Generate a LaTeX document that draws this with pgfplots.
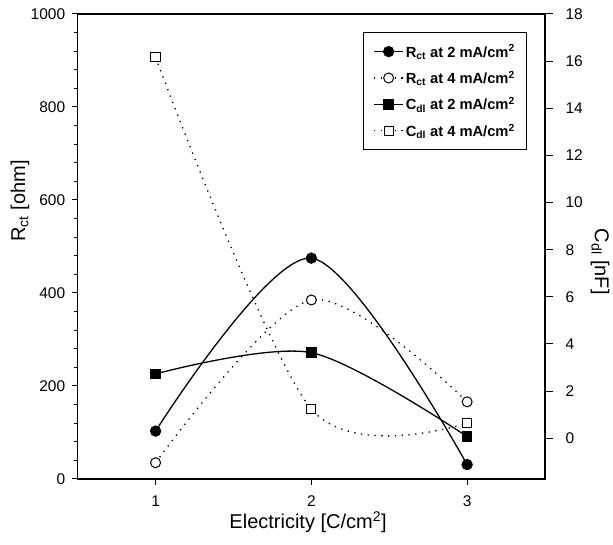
\documentclass[border=0pt]{standalone}
\usepackage{fontspec}
\setmainfont{Liberation Sans}
\usepackage{pgfplots}
\pgfplotsset{compat=1.18}

\pgfplotsset{
  solidline/.style={black, line width=1.3pt, smooth, solid},
  dotline/.style={black, line width=1.3pt, smooth, dash pattern=on 1.3pt off 5.5pt},
  rtwo/.style={solidline, mark=*, mark size=5pt, mark options={solid, fill=black}},
  rfour/.style={dotline, mark=*, mark size=5pt, mark options={solid, line width=1pt, fill=white}},
  ctwo/.style={solidline, mark=square*, mark size=4.6pt, mark options={solid, fill=black}},
  cfour/.style={dotline, mark=square*, mark size=4.6pt, mark options={solid, line width=1pt, fill=white}},
  common/.style={
    at={(0pt,0pt)}, anchor=south west,
    scale only axis, width=467.3pt, height=465pt,
    xmin=0.5, xmax=3.5,
    tick align=outside,
    every tick/.style={black, line width=1pt},
    tick label style={font=\fontsize{15.5}{18}\selectfont},
    /pgf/number format/assume math mode=true,
    /pgf/number format/1000 sep={},
    label style={font=\fontsize{20}{24}\selectfont},
  },
}

\begin{document}
\begin{tikzpicture}
\useasboundingbox (-77.7pt,-66pt) rectangle (535.3pt,479pt);

% left axis: charge transfer resistance
\begin{axis}[
  common,
  ymin=0, ymax=1000,
  xtick={1,2,3}, ytick={0,200,...,1000},
  minor y tick num=4,
  xtick pos=bottom, ytick pos=left,
  major tick length=6pt, minor tick length=3.5pt,
  axis line style={line width=1.3pt},
  yticklabel style={xshift=-3pt},
  xticklabel style={yshift=-7pt},
  xlabel={Electricity [C/cm\textsuperscript{2}]},
  ylabel={R\textsubscript{ct} [ohm]},
  xlabel style={at={(axis description cs:0.493,-0.0925)}, anchor=center},
  ylabel style={at={(axis description cs:-0.1235,0.598)}, anchor=center},
]
\addplot[rtwo] coordinates {(1,103) (2,475) (3,31)};
\addplot[rfour] coordinates {(1,35) (2,385) (3,166)};
\end{axis}

% right axis: double layer capacitance
\begin{axis}[
  common,
  ymin=-1.73, ymax=18,
  axis x line=none, axis y line*=right,
  ytick={0,2,...,18},
  major tick length=8pt,
  axis line style={line width=1.3pt},
  yticklabel style={xshift=9pt},
  ylabel={C\textsubscript{dl} [nF]},
  ylabel style={at={(axis description cs:1.1177,0.467)}, anchor=center, rotate=180},
  legend style={at={(0.6105,0.961)}, anchor=north west, draw=black, line width=1pt,
    font=\bfseries\fontsize{14.7}{17}\selectfont, row sep=8.5pt,
    inner xsep=10pt, inner ysep=10pt, cells={anchor=west}},
  legend image code/.code={\draw[mark repeat=2,mark phase=2] plot coordinates {(0pt,0pt) (14.5pt,0pt) (29pt,0pt)};},
]
\addlegendimage{rtwo}
\addlegendentry{R\textsubscript{ct} at 2 mA/cm\textsuperscript{2}}
\addlegendimage{rfour}
\addlegendentry{R\textsubscript{ct} at 4 mA/cm\textsuperscript{2}}
\addplot[ctwo] coordinates {(1,2.73) (2,3.63) (3,0.07)};
\addlegendentry{C\textsubscript{dl} at 2 mA/cm\textsuperscript{2}}
\addplot[cfour] coordinates {(1,16.16) (2,1.24) (3,0.64)};
\addlegendentry{C\textsubscript{dl} at 4 mA/cm\textsuperscript{2}}
\end{axis}
\end{tikzpicture}
\end{document}
